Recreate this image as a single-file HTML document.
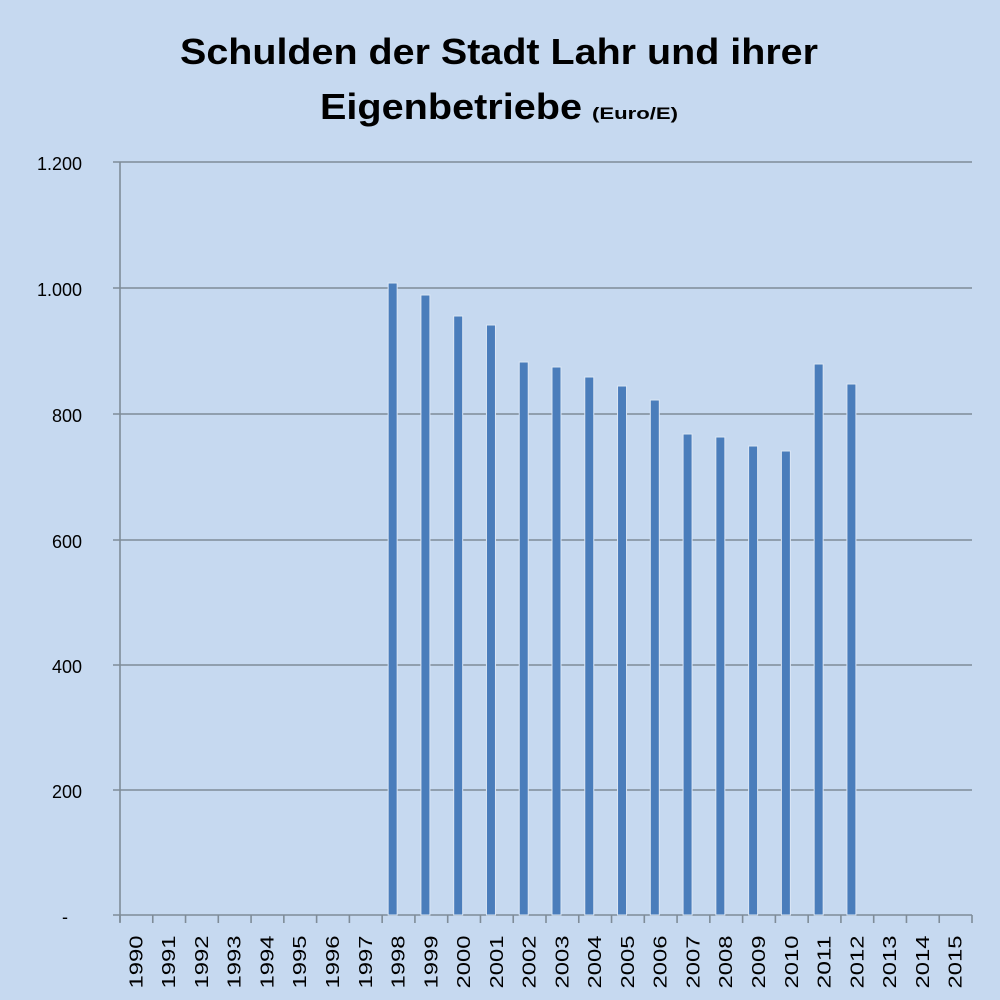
<!DOCTYPE html>
<html><head><meta charset="utf-8"><style>
html,body{margin:0;padding:0;background:#c6d9f0;}
svg{display:block;font-family:"Liberation Sans",sans-serif;}
</style></head><body>
<svg width="1000" height="1000" viewBox="0 0 1000 1000">
<rect width="1000" height="1000" fill="#c6d9f0"/>
<text x="180" y="64" font-size="36" font-weight="bold" fill="#000" textLength="638" lengthAdjust="spacingAndGlyphs">Schulden der Stadt Lahr und ihrer</text>
<text x="320" y="119" font-size="36" font-weight="bold" fill="#000" textLength="262" lengthAdjust="spacingAndGlyphs">Eigenbetriebe</text>
<text x="592" y="119" font-size="17" font-weight="bold" fill="#000" textLength="86" lengthAdjust="spacingAndGlyphs">(Euro/E)</text>
<g stroke="#7f8c98" stroke-width="1.6">
<line x1="113" y1="162" x2="972" y2="162"/>
<line x1="113" y1="288" x2="972" y2="288"/>
<line x1="113" y1="414" x2="972" y2="414"/>
<line x1="113" y1="540" x2="972" y2="540"/>
<line x1="113" y1="665" x2="972" y2="665"/>
<line x1="113" y1="790" x2="972" y2="790"/>
<line x1="113" y1="915" x2="972" y2="915"/>
<line x1="120" y1="162" x2="120" y2="922"/>
</g>
<g font-size="18" fill="#000" text-anchor="end">
<text x="82" y="170">1.200</text>
<text x="82" y="296">1.000</text>
<text x="82" y="422">800</text>
<text x="82" y="548">600</text>
<text x="82" y="673">400</text>
<text x="82" y="798">200</text>
<text x="68" y="923">-</text>
</g>
<g id="ticks" stroke="#7f8c98" stroke-width="1.6"></g>
<g id="bars" fill="#4a7dbb" stroke="#dbe6f4" stroke-width="1"></g>
<g id="labels" font-size="18" fill="#000"></g>
</svg>
<script>
var ns="http://www.w3.org/2000/svg";
var w=(972-120)/26;
var tops={1998:283,1999:295,2000:316,2001:325,2002:362,2003:367,2004:377,2005:386,2006:400,2007:434,2008:437,2009:446,2010:451,2011:364,2012:384};
for(var i=0;i<=26;i++){var x=120+i*w;var l=document.createElementNS(ns,"line");l.setAttribute("x1",x);l.setAttribute("x2",x);l.setAttribute("y1",915);l.setAttribute("y2",923);document.getElementById("ticks").appendChild(l);}
for(var i=0;i<26;i++){var y=1990+i;var cx=120+(i+0.5)*w;
var t=document.createElementNS(ns,"text");t.setAttribute("transform","translate("+(cx+6)+",962) rotate(-90)");t.setAttribute("x",0);t.setAttribute("y",0);t.textContent=y;
t.setAttribute("text-anchor","middle");t.setAttribute("textLength","53");t.setAttribute("lengthAdjust","spacingAndGlyphs");document.getElementById("labels").appendChild(t);
if(tops[y]){var r=document.createElementNS(ns,"rect");r.setAttribute("x",120+i*w+6);r.setAttribute("width",9);r.setAttribute("y",tops[y]);r.setAttribute("height",915-tops[y]);document.getElementById("bars").appendChild(r);}}
</script>
</body></html>
